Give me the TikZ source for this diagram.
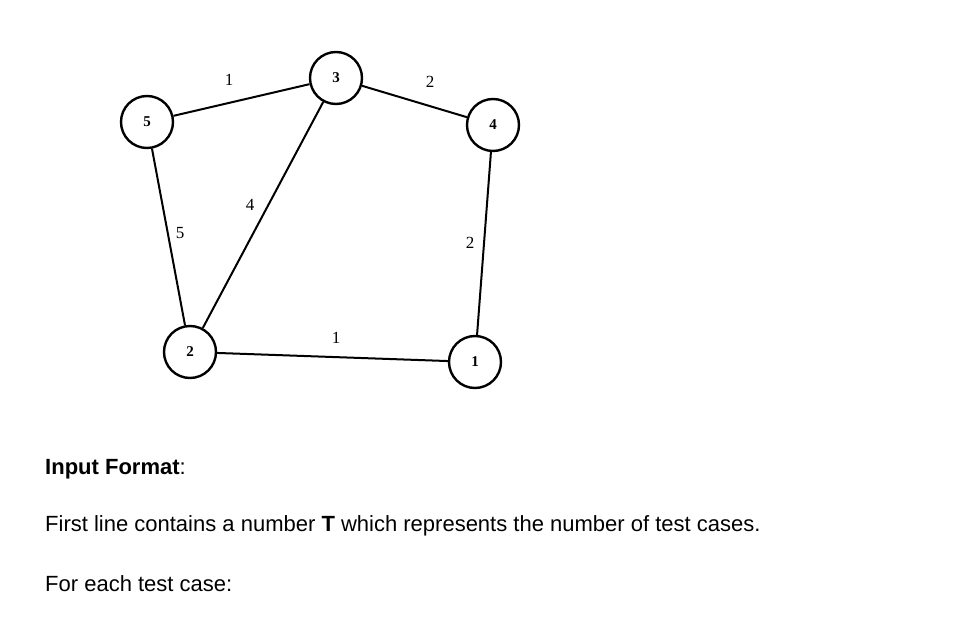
\documentclass[tikz,border=0pt]{standalone}
\usepackage{fontspec}
\setmainfont{Liberation Serif}
\newfontfamily\arial{Liberation Sans}
\begin{document}
\begin{tikzpicture}[x=1pt,y=-1pt,
 v/.style={circle,draw,line width=2.4pt,minimum size=52pt,inner sep=0pt,font=\fontsize{15}{15}\selectfont\bfseries},
 e/.style={line width=2pt},
 lab/.style={font=\fontsize{17}{17}\selectfont},
 txt/.style={anchor=base west,inner sep=0pt,font=\arial\fontsize{22}{22}\selectfont}]
\useasboundingbox (0,0) rectangle (967,620);
\node[v] (n3) at (336,78) {3};
\node[v] (n5) at (147,122) {5};
\node[v] (n4) at (493,125) {4};
\node[v] (n2) at (190,352) {2};
\node[v] (n1) at (475,362) {1};
\draw[e] (n5)--(n3); \draw[e] (n3)--(n4); \draw[e] (n3)--(n2);
\draw[e] (n5)--(n2); \draw[e] (n4)--(n1); \draw[e] (n2)--(n1);
\node[lab] (l1) at (229,80) {1};
\node[lab] (l2) at (430,82) {2};
\node[lab] (l3) at (250,205) {4};
\node[lab] (l4) at (180,233) {5};
\node[lab] (l5) at (470,243) {2};
\node[lab] (l6) at (336,338) {1};
\node[txt] (t1) at (45,474) {\textbf{Input Format}:};
\node[txt] (t2) at (45,531) {First line contains a number \textbf{T} which represents the number of test cases.};
\node[txt] (t3) at (45,591) {For each test case:};
\end{tikzpicture}
\end{document}
